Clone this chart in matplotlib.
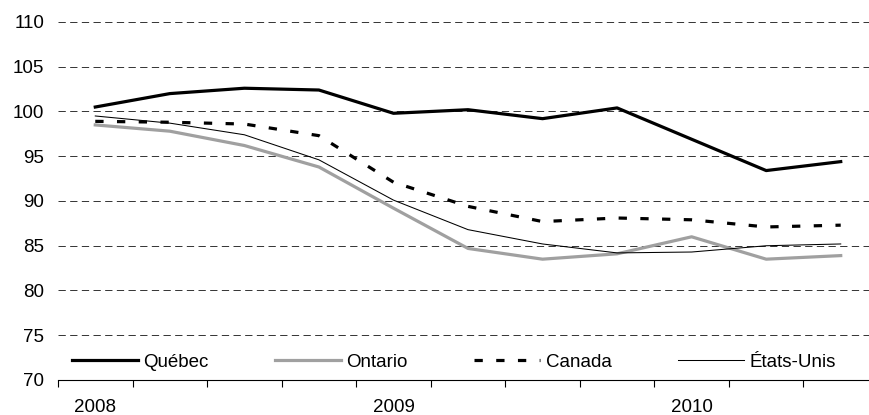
import matplotlib
matplotlib.use("Agg")
from matplotlib import pyplot as plt

plt.rcParams['font.family'] = ['Liberation Sans', 'DejaVu Sans']

quarters = list(range(11))
year_labels = ["2008", "", "", "", "2009", "", "", "", "2010", "", ""]

quebec = [100.5, 102.0, 102.6, 102.4, 99.8, 100.2, 99.2, 100.4, 96.9, 93.4, 94.4]
ontario = [98.5, 97.8, 96.2, 93.8, 89.2, 84.7, 83.5, 84.1, 86.0, 83.5, 83.9]
canada = [98.9, 98.8, 98.6, 97.3, 92.1, 89.4, 87.7, 88.1, 87.9, 87.1, 87.3]
etats_unis = [99.5, 98.7, 97.4, 94.6, 90.1, 86.8, 85.2, 84.2, 84.3, 85.0, 85.2]

fs = 13.5

fig = plt.figure(figsize=(8.7, 4.15), dpi=100)
ax = fig.add_axes([58 / 870, 1 - 380 / 415, 820 / 870, 358 / 415])

ax.plot(quarters, quebec, color='black', lw=2.3, label='Québec', zorder=4)
ax.plot(quarters, ontario, color='#a0a0a0', lw=2.3, label='Ontario', zorder=3)
ax.plot(quarters, canada, color='black', lw=2.3, linestyle=(0, (2.6, 4.2)),
        dash_capstyle='butt', label='Canada', zorder=3)
ax.plot(quarters, etats_unis, color='black', lw=0.75, label='États-Unis', zorder=3)

ax.set_ylim(70, 110)
ax.set_xlim(-0.5, 10.5)
ax.set_yticks(range(70, 111, 5))
ax.yaxis.grid(True, color='#333333', linestyle=(0, (7.5, 4.5)), lw=0.7)
ax.set_axisbelow(True)

ax.set_xticks(quarters)
ax.set_xticklabels(year_labels)
ax.set_xticks([q - 0.5 for q in range(12)], minor=True)
ax.tick_params(axis='x', which='major', length=0, pad=14, labelsize=fs)
ax.tick_params(axis='x', which='minor', length=5, width=0.8, direction='out')
ax.tick_params(axis='y', length=0, pad=10, labelsize=fs)

for s in ['top', 'right', 'left']:
    ax.spines[s].set_visible(False)
ax.spines['bottom'].set_linewidth(0.8)

fig.legend(loc='center left', bbox_to_anchor=(72 / 870, 1 - 362 / 415),
           ncol=4, frameon=False, fontsize=fs, handlelength=3.5,
           handletextpad=0.3, columnspacing=3.55, borderpad=0, borderaxespad=0)

fig.savefig('out.png', dpi=100)
